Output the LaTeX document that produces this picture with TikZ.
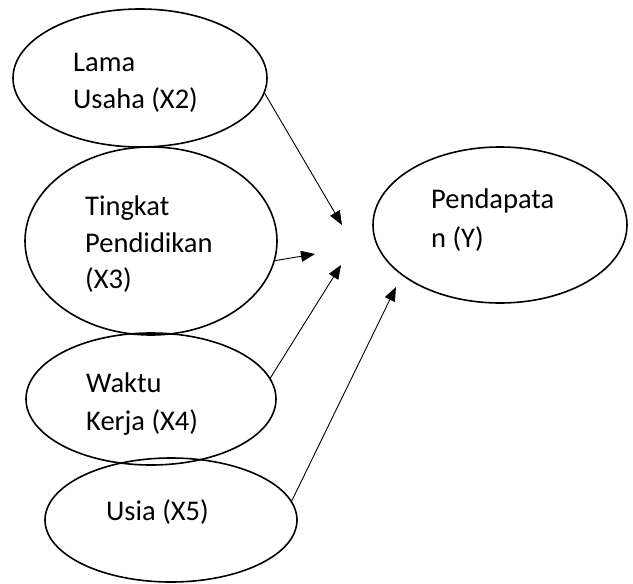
\documentclass[tikz,border=0pt]{standalone}
\usepackage{fontspec}
\setmainfont{Carlito}
\usetikzlibrary{shapes.geometric,arrows.meta}
\begin{document}
\begin{tikzpicture}[x=1pt,y=1pt,
  oval/.style={draw, ellipse, line width=1.6pt, inner sep=0pt},
  lbl/.style={anchor=base west, inner sep=0pt, font=\fontsize{28.5}{34}\selectfont},
  conn/.style={line width=0.9pt, -{Triangle[length=14pt,width=11pt]}}]
\useasboundingbox (0,0) rectangle (633,-584);
\fill[white] (0,0) rectangle (633,-584);
% ellipses
\node[oval, minimum width=254pt, minimum height=138pt] (e1) at (140,-78) {};
\node[oval, minimum width=252pt, minimum height=188pt] (e2) at (151,-241) {};
\node[oval, minimum width=250pt, minimum height=132pt] (e3) at (151,-399) {};
\node[oval, minimum width=252pt, minimum height=124pt] (e4) at (171,-520) {};
\node[oval, minimum width=254pt, minimum height=156pt] (ey) at (500,-225) {};
% texts
\node[lbl] (l1a) at (73,-71) {Lama};
\node[lbl] (l1b) at (73,-108) {Usaha (X2)};
\node[lbl] (l2a) at (85,-215) {Tingkat};
\node[lbl] (l2b) at (85,-252) {Pendidikan};
\node[lbl] (l2c) at (85,-288) {(X3)};
\node[lbl] (l3a) at (86,-392) {Waktu};
\node[lbl] (l3b) at (86,-430) {Kerja (X4)};
\node[lbl] (l4a) at (106,-520) {Usia (X5)};
\node[lbl] (lya) at (431,-208) {Pendapata};
\node[lbl] (lyb) at (431,-247) {n (Y)};
% arrow tips
\coordinate (t1) at (342,-225);
\coordinate (t2) at (315,-254);
\coordinate (t3) at (341,-265);
\coordinate (t4) at (396,-287);
\draw[conn] (e1.-7) -- (t1);
\draw[conn] (e2.-9.5) -- (t2);
\draw[conn] (e3.10.4) -- (t3);
\draw[conn] (e4.9.4) -- (t4);
\end{tikzpicture}
\end{document}
